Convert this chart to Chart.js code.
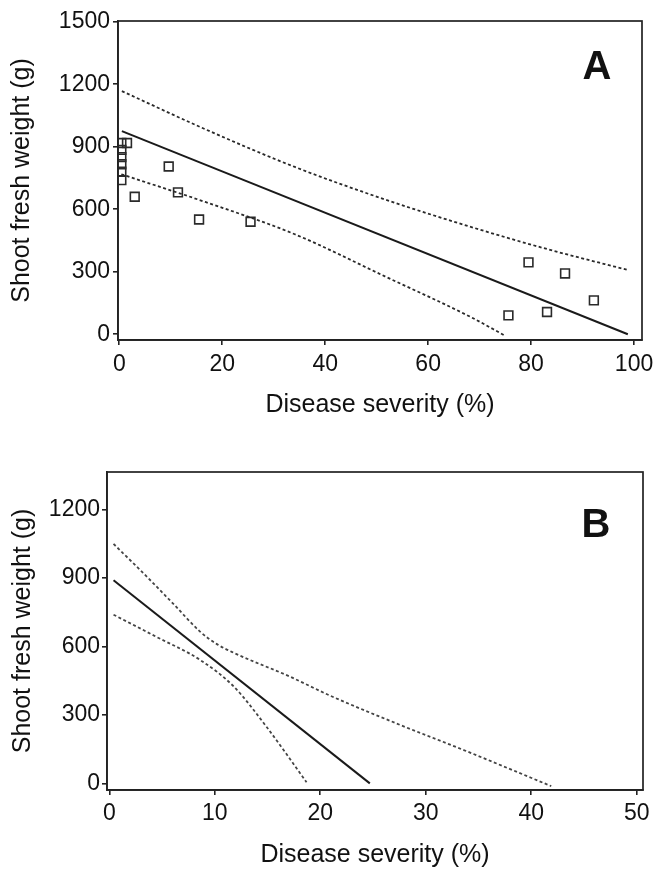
<!DOCTYPE html>
<html>
<head>
<meta charset="utf-8">
<script src="https://cdn.jsdelivr.net/npm/chart.js@4.4.1/dist/chart.umd.min.js"></script>
<style>
  html, body { margin: 0; padding: 0; background: #fff; }
  #wrap { position: relative; width: 655px; height: 870px; }
  canvas { position: absolute; left: 0; }
</style>
</head>
<body>
<div id="wrap">
  <canvas id="chartA" width="655" height="435" style="top:0"></canvas>
  <canvas id="chartB" width="655" height="435" style="top:435px"></canvas>
</div>
<script>
// ---------- Panel A data ----------
const aObsX = [0.4, 0.4, 0.4, 0.4, 0.4, 0.4, 1.5, 9.6, 3.0, 11.4, 15.5, 25.5, 79.5, 86.6, 92.2, 75.6, 83.1];
const aObsY = [918, 885, 850, 816, 780, 740, 918, 805, 660, 681, 551, 540, 345, 292, 163, 91, 107];
const aFitX = [0.5, 98.8];
const aFitY = [975, 0];
const aUpperX = [0.5, 16.7, 34.1, 51.5, 69, 83.7, 98.9];
const aUpperY = [1167, 984, 803, 648, 510, 405, 308];
const aLowerX = [0.4, 16.7, 34.1, 51.6, 68.5, 74.8];
const aLowerY = [768, 635, 480, 278, 80, -5];
const aXTicks = [0, 20, 40, 60, 80, 100];
const aYTicks = [0, 300, 600, 900, 1200, 1500];

// ---------- Panel B data ----------
const bFitX = [0.4, 24.7];
const bFitY = [890, 0];
const bUpperX = [0.4, 3.2, 6.1, 8.6, 10.2, 11.8, 17.1, 20.9, 27.2, 33.6, 41.9];
const bUpperY = [1049, 922, 785, 665, 610, 572, 468, 385, 263, 146, -12];
const bLowerX = [0.4, 4.5, 8.6, 11.8, 14.9, 18.7];
const bLowerY = [739, 641, 541, 424, 248, 5];
const bXTicks = [0, 10, 20, 30, 40, 50];
const bYTicks = [0, 300, 600, 900, 1200];

const xTitle = 'Disease severity (%)';
const yTitle = 'Shoot fresh weight (g)';

function pts(xs, ys) { return xs.map((x, i) => ({ x: x, y: ys[i] })); }

const FONT = "'Liberation Sans', Arial, Helvetica, sans-serif";
const INK = '#111111';
const AXIS = '#222222';

const framePlugin = {
  id: 'frame',
  afterDraw(chart, args, opts) {
    const { ctx, chartArea: a } = chart;
    ctx.save();
    ctx.strokeStyle = AXIS;
    ctx.lineWidth = 1.7;
    ctx.strokeRect(a.left, a.top, a.right - a.left, a.bottom - a.top);
    ctx.fillStyle = INK;
    ctx.font = 'bold 40px ' + FONT;
    ctx.textAlign = 'center';
    ctx.textBaseline = 'middle';
    ctx.fillText(opts.letter, a.right - opts.dx, a.top + opts.dy);
    ctx.restore();
  }
};

function makeChart(id, cfg) {
  const lineCommon = { showLine: true, pointRadius: 0, fill: false, cubicInterpolationMode: 'monotone' };
  const datasets = [];
  if (cfg.obs) {
    datasets.push({
      data: cfg.obs, showLine: false, pointStyle: 'rect', pointRadius: 6.2,
      borderColor: '#2a2a2a', backgroundColor: 'rgba(0,0,0,0)', borderWidth: 1.6
    });
  }
  datasets.push(Object.assign({ data: cfg.fit, borderColor: '#1a1a1a', borderWidth: 2 }, lineCommon));
  datasets.push(Object.assign({ data: cfg.upper, borderColor: cfg.dashColor, borderWidth: 1.8, borderDash: [3, 2.5] }, lineCommon));
  datasets.push(Object.assign({ data: cfg.lower, borderColor: cfg.dashColor, borderWidth: 1.8, borderDash: [3, 2.5] }, lineCommon));

  return new Chart(document.getElementById(id), {
    type: 'scatter',
    data: { datasets: datasets },
    plugins: [framePlugin],
    options: {
      responsive: false,
      animation: false,
      devicePixelRatio: 1,
      layout: { padding: { top: cfg.padTop, right: cfg.padRight, left: 0, bottom: 0 } },
      plugins: {
        legend: { display: false },
        tooltip: { enabled: false },
        frame: { letter: cfg.letter, dx: cfg.letterDx, dy: cfg.letterDy }
      },
      scales: {
        x: {
          type: 'linear', position: 'bottom',
          min: cfg.xMin, max: cfg.xMax,
          afterBuildTicks: s => { s.ticks = cfg.xTicks.map(v => ({ value: v })); },
          afterFit: s => { s.height = cfg.xHeight; s.paddingLeft = 0; s.paddingRight = 0; },
          grid: { drawOnChartArea: false, drawTicks: true, tickLength: 5, color: AXIS, lineWidth: 1.6 },
          border: { display: true, color: AXIS, width: 1.7 },
          ticks: { padding: cfg.xTickPad, color: INK, font: { family: FONT, size: 23 }, maxRotation: 0, autoSkip: false,
                   callback: v => String(v) },
          title: { display: true, text: xTitle, color: INK, font: { family: FONT, size: 25 },
                   padding: { top: 0, bottom: cfg.xTitlePad } }
        },
        y: {
          type: 'linear', position: 'left',
          min: cfg.yMin, max: cfg.yMax,
          afterBuildTicks: s => { s.ticks = cfg.yTicks.map(v => ({ value: v })); },
          afterFit: s => { s.width = cfg.yWidth; s.paddingTop = 0; s.paddingBottom = 0; },
          grid: { drawOnChartArea: false, drawTicks: true, tickLength: 5, color: AXIS, lineWidth: 1.6 },
          border: { display: true, color: AXIS, width: 1.7 },
          ticks: { padding: cfg.yTickPad, color: INK, font: { family: FONT, size: 23 }, autoSkip: false,
                   callback: v => String(v) },
          title: { display: true, text: yTitle, color: INK, font: { family: FONT, size: 25 },
                   padding: { top: cfg.yTitlePad, bottom: 0 } }
        }
      }
    }
  });
}

makeChart('chartA', {
  obs: pts(aObsX, aObsY),
  fit: pts(aFitX, aFitY),
  upper: pts(aUpperX, aUpperY),
  lower: pts(aLowerX, aLowerY),
  dashColor: '#2a2a2a',
  xTicks: aXTicks, yTicks: aYTicks,
  xMin: -0.25, xMax: 101.55, yMin: -27.4, yMax: 1503.4,
  padTop: 21, padRight: 13, yWidth: 118, xHeight: 95,
  xTickPad: 6, yTickPad: 3, xTitlePad: 14.5, yTitlePad: 7,
  letter: 'A', letterDx: 45, letterDy: 47
});

makeChart('chartB', {
  obs: null,
  fit: pts(bFitX, bFitY),
  upper: pts(bUpperX, bUpperY),
  lower: pts(bLowerX, bLowerY),
  dashColor: '#444444',
  xTicks: bXTicks, yTicks: bYTicks,
  xMin: -0.22, xMax: 50.6, yMin: -29, yMax: 1364,
  padTop: 37, padRight: 12, yWidth: 107, xHeight: 80,
  xTickPad: 5, yTickPad: 2, xTitlePad: 0, yTitlePad: 8,
  letter: 'B', letterDx: 47, letterDy: 54
});
</script>
</body>
</html>
